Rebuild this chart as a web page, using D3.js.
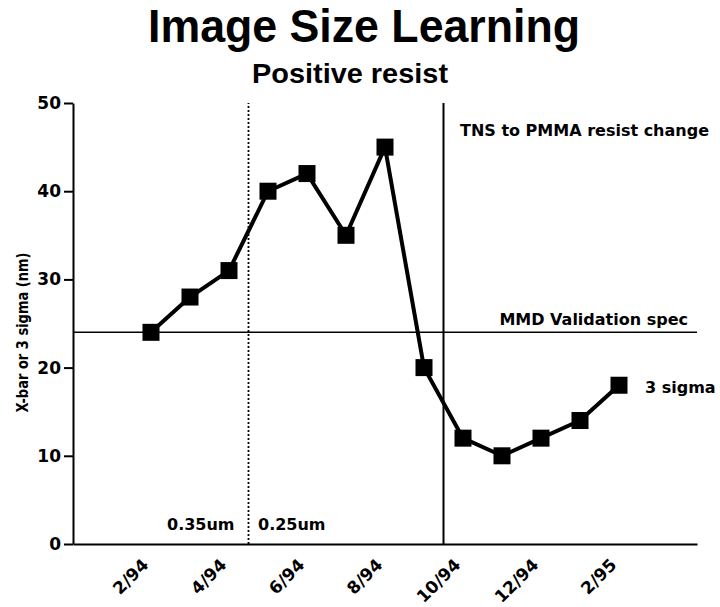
<!DOCTYPE html>
<html>
<head>
<meta charset="utf-8">
<script src="https://cdn.jsdelivr.net/npm/d3@7"></script>
<style>
  html, body { margin: 0; padding: 0; background: #fff; }
  svg { display: block; }
  text { font-family: "DejaVu Sans", sans-serif; font-weight: bold; fill: #000; }
</style>
</head>
<body>
<svg id="chart" width="720" height="607"></svg>
<script>
// ---- data ----
const months = ["2/94","3/94","4/94","5/94","6/94","7/94","8/94","9/94","10/94","11/94","12/94","1/95","2/95"];
const sigmaValues = [24, 28, 31, 40, 42, 35, 45, 20, 12, 10, 12, 14, 18];
const xTickLabels = ["2/94","4/94","6/94","8/94","10/94","12/94","2/95"];
const yTicks = [0, 10, 20, 30, 40, 50];
const specValue = 24;
const dottedAt = 2.5;   // between 4/94 and 5/94
const solidAt = 7.5;    // between 9/94 and 10/94

const svg = d3.select("#chart");

const x = d3.scaleLinear().domain([-2, 14]).range([73, 697]);
const y = d3.scaleLinear().domain([0, 50]).range([544, 103]);

// Title
svg.append("text")
  .attr("x", 364).attr("y", 42)
  .attr("text-anchor", "middle")
  .style("font-family", "'Liberation Sans', Arial, sans-serif")
  .style("font-size", "46px")
  .attr("textLength", 432).attr("lengthAdjust", "spacingAndGlyphs")
  .text("Image Size Learning");

svg.append("text")
  .attr("x", 350).attr("y", 83)
  .attr("text-anchor", "middle")
  .style("font-family", "'Liberation Sans', Arial, sans-serif")
  .style("font-size", "28px")
  .attr("textLength", 196).attr("lengthAdjust", "spacingAndGlyphs")
  .text("Positive resist");

// Y axis
const yAxis = svg.append("g")
  .attr("transform", `translate(${x(-2)},0)`)
  .call(d3.axisLeft(y).tickValues(yTicks).tickSize(9).tickSizeOuter(0).tickPadding(3));
yAxis.select(".domain").attr("stroke", "#000").attr("stroke-width", 2);
yAxis.selectAll(".tick line").attr("stroke", "#000").attr("stroke-width", 2);
yAxis.selectAll(".tick text")
  .style("font-family", "'DejaVu Sans', sans-serif")
  .style("font-weight", "bold")
  .style("font-size", "17px").attr("fill", "#000");

// X axis
const xIdx = xTickLabels.map(l => months.indexOf(l));
const xAxis = svg.append("g")
  .attr("transform", `translate(0,${y(0)})`)
  .call(d3.axisBottom(x).tickValues(xIdx).tickSize(0).tickSizeOuter(0)
        .tickFormat(d => months[d]));
xAxis.select(".domain").attr("stroke", "#000").attr("stroke-width", 2);
xAxis.selectAll(".tick text")
  .attr("y", 0).attr("dy", 0)
  .attr("text-anchor", "end")
  .attr("transform", "translate(-2,22) rotate(-45)")
  .style("font-family", "'DejaVu Sans', sans-serif")
  .style("font-weight", "bold")
  .style("font-size", "17px").attr("fill", "#000");

// Y axis title
svg.append("text")
  .attr("transform", `translate(28,${(y(0)+y(50))/2 + 9}) rotate(-90)`)
  .attr("text-anchor", "middle")
  .style("font-family", "'DejaVu Sans', sans-serif")
  .style("font-size", "15px")
  .attr("textLength", 160).attr("lengthAdjust", "spacingAndGlyphs")
  .text("X-bar or 3 sigma (nm)");

// Reference lines
svg.append("line")
  .attr("x1", x(-2)).attr("x2", x(14))
  .attr("y1", y(specValue)).attr("y2", y(specValue))
  .attr("stroke", "#000").attr("stroke-width", 1.6);

svg.append("line")
  .attr("x1", x(dottedAt)).attr("x2", x(dottedAt))
  .attr("y1", y(0)).attr("y2", y(50))
  .attr("stroke", "#000").attr("stroke-width", 1.8)
  .attr("stroke-dasharray", "2,2");

svg.append("line")
  .attr("x1", x(solidAt)).attr("x2", x(solidAt))
  .attr("y1", y(0)).attr("y2", y(50))
  .attr("stroke", "#000").attr("stroke-width", 2);

// Annotations
svg.append("text").attr("x", 460).attr("y", 136)
  .style("font-size", "16px").text("TNS to PMMA resist change");
svg.append("text").attr("x", 688).attr("y", 325).attr("text-anchor", "end")
  .style("font-size", "16px").text("MMD Validation spec");
svg.append("text").attr("x", 645).attr("y", 393)
  .style("font-size", "16px").text("3 sigma");
svg.append("text").attr("x", 167).attr("y", 530)
  .style("font-size", "16px").text("0.35um");
svg.append("text").attr("x", 258).attr("y", 530)
  .style("font-size", "16px").text("0.25um");

// Data line
const pts = sigmaValues.map((v, i) => [i, v]);
svg.append("path")
  .datum(pts)
  .attr("fill", "none").attr("stroke", "#000").attr("stroke-width", 4)
  .attr("stroke-linejoin", "round")
  .attr("d", d3.line().x(d => x(d[0])).y(d => y(d[1])));

const ms = 17;
svg.selectAll("rect.pt")
  .data(pts).enter().append("rect")
  .attr("class", "pt")
  .attr("x", d => x(d[0]) - ms/2).attr("y", d => y(d[1]) - ms/2)
  .attr("width", ms).attr("height", ms)
  .attr("fill", "#000");
</script>
</body>
</html>
